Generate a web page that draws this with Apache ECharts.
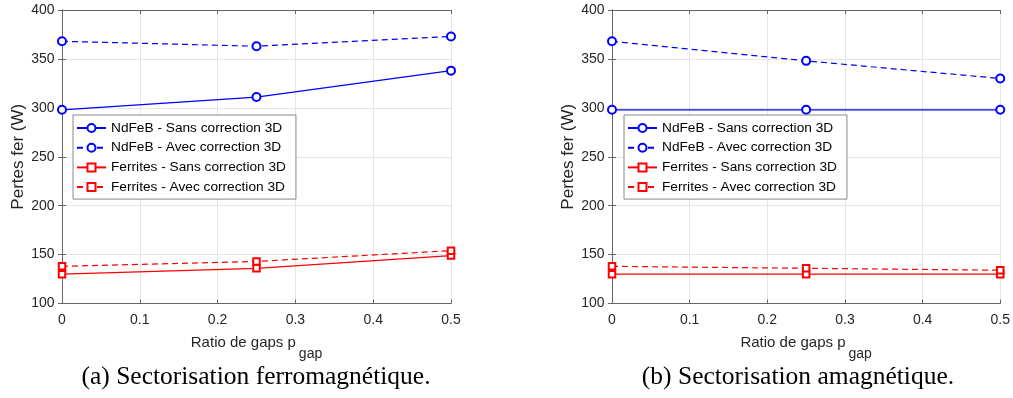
<!DOCTYPE html>
<html><head><meta charset="utf-8">
<script src="https://cdn.jsdelivr.net/npm/echarts@6/dist/echarts.min.js"></script>
<style>html,body{margin:0;padding:0;background:#fff}#c{width:1013px;height:398px}</style>
</head><body><div id="c"></div>
<script>
// ---- data ----
const xVals = [0, 0.25, 0.5];
const seriesNames = ['NdFeB - Sans correction 3D','NdFeB - Avec correction 3D','Ferrites - Sans correction 3D','Ferrites - Avec correction 3D'];
// (a) Sectorisation ferromagnétique
const ferroNdSans = [298, 311, 338];
const ferroNdAvec = [368, 363, 373];
const ferroFeSans = [130, 136, 149];
const ferroFeAvec = [138, 143, 154];
// (b) Sectorisation amagnétique
const amagNdSans = [298, 298, 298];
const amagNdAvec = [368, 348, 330];
const amagFeSans = [130, 130, 130];
const amagFeAvec = [138, 136, 134];
const xTicks = [0, 0.1, 0.2, 0.3, 0.4, 0.5];
const yTicks = [100, 150, 200, 250, 300, 350, 400];
const yLabel = 'Pertes fer (W)';
const xLabelMain = 'Ratio de gaps p';
const xLabelSub = 'gap';
const captions = ['(a) Sectorisation ferromagnétique.', '(b) Sectorisation amagnétique.'];

// ---- chart ----
const font = 'Liberation Sans, Arial, Helvetica, sans-serif';
const axisColor = '#666';
const textColor = '#262626';
const grids = [
  {left: 62, top: 10, width: 389, height: 293.5},
  {left: 612, top: 10, width: 389, height: 293.5}
];
const xAxes = [], yAxes = [];
grids.forEach((g, i) => {
  xAxes.push({
    gridIndex: i, type: 'value', min: xTicks[0], max: xTicks[xTicks.length-1], interval: xTicks[1]-xTicks[0],
    position: 'bottom',
    name: '{m|' + xLabelMain + '}{sub|' + xLabelSub + '}', nameLocation: 'middle', nameGap: 32,
    nameTextStyle: {color: textColor, fontFamily: font, fontSize: 15,
      rich: {
        m: {fontSize: 15, fontFamily: font, color: textColor, verticalAlign: 'top'},
        sub: {fontSize: 14, fontFamily: font, color: textColor, verticalAlign: 'top', padding: [12, 0, 0, 3]}
      }},
    axisLine: {show: true, lineStyle: {color: axisColor, width: 1}},
    axisTick: {show: true, inside: true, length: 4, lineStyle: {color: axisColor}},
    axisLabel: {color: textColor, fontFamily: font, fontSize: 14, margin: 9.5},
    splitLine: {show: true, lineStyle: {color: '#e6e6e6', width: 1}}
  });
  xAxes.push({
    gridIndex: i, type: 'value', min: xTicks[0], max: xTicks[xTicks.length-1], interval: xTicks[1]-xTicks[0],
    position: 'top',
    axisLine: {show: true, lineStyle: {color: axisColor, width: 1}},
    axisTick: {show: true, inside: true, length: 4, lineStyle: {color: axisColor}},
    axisLabel: {show: false}, splitLine: {show: false}
  });
  yAxes.push({
    gridIndex: i, type: 'value', min: yTicks[0], max: yTicks[yTicks.length-1], interval: yTicks[1]-yTicks[0],
    position: 'left',
    name: yLabel, nameLocation: 'middle', nameGap: 34, nameRotate: 90,
    nameTextStyle: {color: textColor, fontFamily: font, fontSize: 17},
    axisLine: {show: true, lineStyle: {color: axisColor, width: 1}},
    axisTick: {show: true, inside: true, length: 4, lineStyle: {color: axisColor}},
    axisLabel: {color: textColor, fontFamily: font, fontSize: 14, margin: 7.5},
    splitLine: {show: true, lineStyle: {color: '#e6e6e6', width: 1}}
  });
  yAxes.push({
    gridIndex: i, type: 'value', min: yTicks[0], max: yTicks[yTicks.length-1], interval: yTicks[1]-yTicks[0],
    position: 'right',
    axisLine: {show: true, lineStyle: {color: axisColor, width: 1}},
    axisTick: {show: true, inside: true, length: 4, lineStyle: {color: axisColor}},
    axisLabel: {show: false}, splitLine: {show: false}
  });
});

const pairs = arr => arr.map((v, k) => [xVals[k], v]);
const styles = [
  {color: '#0000ff', symbol: 'emptyCircle', size: 8, dash: 'solid', border: '#0000ff'},
  {color: '#0000ff', symbol: 'emptyCircle', size: 8, dash: [6, 4], border: '#0000ff'},
  {color: '#ff0000', symbol: 'emptyRect', size: 6.5, dash: 'solid', border: 'rgba(255,0,0,0.6)'},
  {color: '#ff0000', symbol: 'emptyRect', size: 6.5, dash: [6, 4], border: 'rgba(255,0,0,0.6)'}
];
const dataSets = [
  [ferroNdSans, ferroNdAvec, ferroFeSans, ferroFeAvec],
  [amagNdSans, amagNdAvec, amagFeSans, amagFeAvec]
];
const series = [];
dataSets.forEach((set, gi) => {
  set.forEach((arr, si) => {
    const s = styles[si];
    series.push({
      type: 'line', name: seriesNames[si], xAxisIndex: gi*2, yAxisIndex: gi*2,
      data: pairs(arr), symbol: s.symbol, symbolSize: s.size, showSymbol: true,
      lineStyle: {color: s.color, width: 1.2, type: s.dash},
      itemStyle: {color: s.color, borderColor: s.border, borderWidth: 1},
      animation: false, z: 3
    });
  });
});

const legendCommon = {
  orient: 'vertical', data: seriesNames, itemWidth: 29, itemHeight: 10, itemGap: 5.7,
  padding: [6, 10, 5, 3], backgroundColor: '#fff', borderColor: '#888', borderWidth: 1,
  textStyle: {color: '#000', fontFamily: font, fontSize: 13.7}, selectedMode: false, z: 10
};

const option = {
  backgroundColor: '#fff',
  animation: false,
  grid: grids.map(g => Object.assign({containLabel: false}, g)),
  xAxis: xAxes, yAxis: yAxes, series,
  legend: [
    Object.assign({left: 73, top: 115}, legendCommon),
    Object.assign({left: 624, top: 115}, legendCommon)
  ],
  graphic: [
    {type: 'text', x: 256, y: 377, style: {text: captions[0], font: '25.5px "Liberation Serif", "Times New Roman", serif', fill: '#000', align: 'center', verticalAlign: 'middle'}},
    {type: 'text', x: 798, y: 377, style: {text: captions[1], font: '25.5px "Liberation Serif", "Times New Roman", serif', fill: '#000', align: 'center', verticalAlign: 'middle'}}
  ]
};
const chart = echarts.init(document.getElementById('c'), null, {renderer: 'canvas'});
chart.setOption(option);
</script></body></html>
